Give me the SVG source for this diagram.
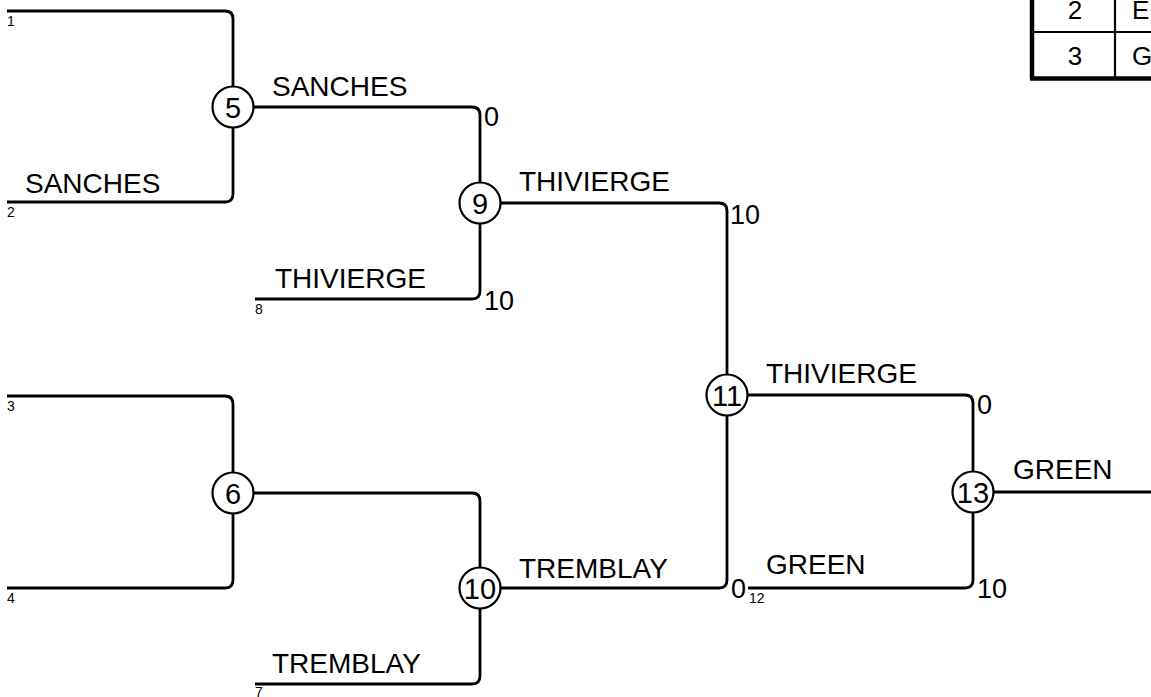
<svg xmlns="http://www.w3.org/2000/svg" width="1151" height="697" viewBox="0 0 1151 697">
<style>
.ln{fill:none;stroke:#000;stroke-width:2.8}
.nd circle{fill:#fff;stroke:#000;stroke-width:2.2}
.nd text{font-family:"Liberation Sans",Arial,sans-serif;font-size:29px;text-anchor:middle}
.lb{font-family:"Liberation Sans",Arial,sans-serif;font-size:28px}
.sc{font-family:"Liberation Sans",Arial,sans-serif;font-size:27px}
.sm{font-family:"Liberation Sans",Arial,sans-serif;font-size:14px}
.tb{font-family:"Liberation Sans",Arial,sans-serif;font-size:26px}
</style>
<rect width="1151" height="697" fill="#fff"/>
<g id="table">
<line x1="1032" y1="-20" x2="1032" y2="78.5" stroke="#000" stroke-width="4.5"/>
<line x1="1030" y1="78.5" x2="1151" y2="78.5" stroke="#000" stroke-width="4.5"/>
<line x1="1032" y1="32" x2="1151" y2="32" stroke="#000" stroke-width="2.2"/>
<line x1="1115" y1="-20" x2="1115" y2="77" stroke="#000" stroke-width="2.2"/>
<text class="tb" x="1075" y="19" text-anchor="middle">2</text>
<text class="tb" x="1075" y="65" text-anchor="middle">3</text>
<text class="tb" x="1132" y="19">E</text>
<text class="tb" x="1132" y="65">G</text>
</g>
<g id="connectors">
<path class="ln" d="M7,11 H225 Q233,11 233,19 V86.5"/>
<path class="ln" d="M7,202 H225 Q233,202 233,194 V127.5"/>
<path class="ln" d="M253.5,107 H472 Q480,107 480,115 V182.5"/>
<path class="ln" d="M255,299 H472 Q480,299 480,291 V223.5"/>
<path class="ln" d="M500.5,203 H719 Q727,203 727,211 V374.5"/>
<path class="ln" d="M7,396 H225 Q233,396 233,404 V472.5"/>
<path class="ln" d="M7,588 H225 Q233,588 233,580 V513.5"/>
<path class="ln" d="M253.5,493 H472 Q480,493 480,501 V567.5"/>
<path class="ln" d="M255,684 H472 Q480,684 480,676 V608.5"/>
<path class="ln" d="M500.5,588 H719 Q727,588 727,580 V415.5"/>
<path class="ln" d="M747.5,395 H965 Q973,395 973,403 V471.5"/>
<path class="ln" d="M748,588 H965 Q973,588 973,580 V512.5"/>
<path class="ln" d="M993.5,492 H1151"/>
</g>
<g id="labels">
<text class="sm" x="7" y="26">1</text>
<text class="sm" x="7" y="217">2</text>
<text class="sm" x="7" y="411">3</text>
<text class="sm" x="7" y="603">4</text>
<text class="sm" x="255" y="697">7</text>
<text class="sm" x="255" y="314">8</text>
<text class="sm" x="749" y="603">12</text>
<text class="lb" x="25" y="193">SANCHES</text>
<text class="lb" x="272" y="96">SANCHES</text>
<text class="lb" x="275" y="288">THIVIERGE</text>
<text class="lb" x="519" y="191">THIVIERGE</text>
<text class="lb" x="272" y="673">TREMBLAY</text>
<text class="lb" x="519" y="578">TREMBLAY</text>
<text class="lb" x="766" y="383">THIVIERGE</text>
<text class="lb" x="766" y="574">GREEN</text>
<text class="lb" x="1013" y="479">GREEN</text>
<text class="sc" x="484" y="126">0</text>
<text class="sc" x="484" y="310">10</text>
<text class="sc" x="730" y="224">10</text>
<text class="sc" x="977" y="414">0</text>
<text class="sc" x="731" y="598">0</text>
<text class="sc" x="977" y="598">10</text>
</g>
<g id="n5" class="nd"><circle cx="233" cy="107" r="20.5"/><text x="233" y="117.5">5</text></g>
<g id="n9" class="nd"><circle cx="480" cy="203" r="20.5"/><text x="480" y="213.5">9</text></g>
<g id="n6" class="nd"><circle cx="233" cy="493" r="20.5"/><text x="233" y="503.5">6</text></g>
<g id="n10" class="nd"><circle cx="480" cy="588" r="20.5"/><text x="480" y="598.5">10</text></g>
<g id="n11" class="nd"><circle cx="727" cy="395" r="20.5"/><text x="727" y="405.5">11</text></g>
<g id="n13" class="nd"><circle cx="973" cy="492" r="20.5"/><text x="973" y="502.5">13</text></g>
</svg>
